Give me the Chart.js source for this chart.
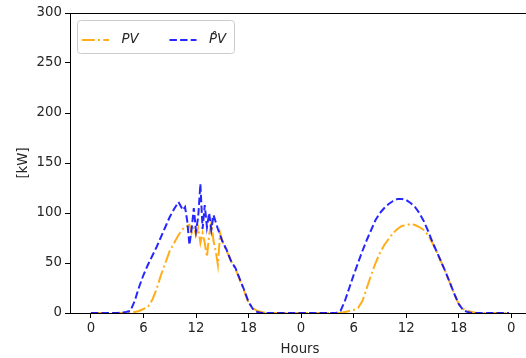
<!DOCTYPE html>
<html>
<head>
<meta charset="utf-8">
<script src="https://cdn.jsdelivr.net/npm/chart.js@4"></script>
<style>
    html, body { margin: 0; padding: 0; background: #fff; overflow: hidden; }
    #wrap { width: 526px; height: 358px; overflow: hidden; }
</style>
</head>
<body>
<div id="wrap"><canvas id="canvas" width="540" height="358"></canvas></div>
<script>
'use strict';

// time axis in hours (two days, finer steps around the noisy midday)
var hours = [
    0, 1, 2, 3, 4,
    4.5, 5, 5.5, 6, 6.5, 7, 7.5, 8, 8.5, 9, 9.5, 10,
    10.25, 10.5, 10.75, 11, 11.25, 11.5, 11.75, 12, 12.25, 12.5,
    12.75, 13, 13.25, 13.5, 13.75, 14, 14.25, 14.5, 14.75, 15,
    15.5, 16, 16.5, 17, 17.5, 18, 18.5, 19, 19.5, 20,
    21, 22, 23,
    24, 25, 26, 27, 28,
    28.5, 29, 29.5, 30, 30.5, 31, 31.5, 32, 32.5, 33,
    33.5, 34, 34.5, 35, 35.5, 36, 36.5, 37, 37.5, 38,
    38.5, 39, 39.5, 40, 40.5, 41, 41.5, 42, 42.5, 43,
    43.5, 44,
    45, 46, 47, 47.75
];

// measured PV [kW]
var pv = [
    0, 0, 0, 0, 0,
    0, 1, 2, 4, 6, 13, 24, 38, 50, 62, 70, 78,
    81, 84, 86, 87, 88, 80, 86, 78, 85, 70,
    80, 70, 56, 78, 90, 72, 62, 48, 80, 72,
    62, 52, 44, 33, 22, 10, 5, 2, 1, 0,
    0, 0, 0,
    0, 0, 0, 0, 0,
    0, 1, 2, 3, 5, 12, 25, 38, 50, 60,
    68, 74, 80, 84, 87, 88, 89, 88, 86, 83,
    78, 70, 61, 51, 41, 30, 19, 9, 4, 2,
    1, 0,
    0, 0, 0, 0
];

// predicted PV [kW]
var pvHat = [
    0, 0, 0, 0, 1,
    2, 12, 26, 38, 48, 57, 66, 76, 86, 96, 104, 111,
    107, 103, 106, 92, 68, 84, 105, 82, 96, 129,
    84, 108, 86, 100, 83, 98, 91, 84, 78, 72,
    63, 52, 45, 34, 23, 11, 4, 1, 0, 0,
    0, 0, 0,
    0, 0, 0, 0, 0,
    2, 12, 25, 38, 50, 62, 73, 83, 93, 100,
    105, 109, 112, 114, 114, 113, 110, 106, 100, 92,
    82, 71, 61, 51, 41, 30, 19, 9, 3, 1,
    0, 0,
    0, 0, 0, 0
];

var xTickValues = [0, 6, 12, 18, 24, 30, 36, 42, 48];
var xTickLabels = ['0', '6', '12', '18', '0', '6', '12', '18', '0'];
var yTicks = [0, 50, 100, 150, 200, 250, 300];

var FONT = 'DejaVu Sans';
var TEXT = '#262626';

function points(values) {
    return hours.map(function (h, i) { return {x: h, y: values[i]}; });
}

// matplotlib-like 5% margins on the x range
var span = hours[hours.length - 1] - hours[0];
var xMin = hours[0] - 0.05 * span,
    xMax = hours[hours.length - 1] + 0.05 * span;

// box around the plot, drawn over the lines like matplotlib spines
var framePlugin = {
    id: 'frame',
    afterDatasetsDraw: function (chart) {
        var a = chart.chartArea, ctx = chart.ctx;
        ctx.save();
        ctx.strokeStyle = '#000';
        ctx.lineWidth = 1;
        ctx.strokeRect(Math.round(a.left) + 0.5, Math.round(a.top) + 0.5,
            Math.round(a.right - a.left), Math.round(a.bottom - a.top));
        ctx.restore();
    }
};

// two column legend in the upper left corner
var legendPlugin = {
    id: 'innerLegend',
    afterDraw: function (chart) {
        var a = chart.chartArea, ctx = chart.ctx;
        var x0 = a.left + 7.5, y0 = a.top + 7.5, w = 157, h = 33, r = 3;
        ctx.save();
        ctx.beginPath();
        ctx.roundRect(x0, y0, w, h, r);
        ctx.fillStyle = 'rgba(255,255,255,0.8)';
        ctx.fill();
        ctx.strokeStyle = '#cccccc';
        ctx.lineWidth = 1;
        ctx.stroke();

        var cy = y0 + 19.5;
        var cols = [x0 + 4.5, x0 + 92];
        var order = [1, 0];
        ctx.font = 'italic 13.3px "' + FONT + '"';
        ctx.textBaseline = 'middle';
        order.forEach(function (di, k) {
            var ds = chart.data.datasets[di], lx = cols[k];
            ctx.beginPath();
            ctx.setLineDash(ds.borderDash);
            ctx.strokeStyle = ds.borderColor;
            ctx.lineWidth = ds.borderWidth;
            ctx.moveTo(lx, cy);
            ctx.lineTo(lx + 27, cy);
            ctx.stroke();
            ctx.setLineDash([]);
            ctx.fillStyle = TEXT;
            ctx.fillText(ds.label, lx + 39.5, cy);
        });
        ctx.restore();
    }
};

new Chart(document.getElementById('canvas').getContext('2d'), {
    type: 'line',
    data: {
        datasets: [
            {
                label: 'P\u0302V',
                data: points(pvHat),
                borderColor: 'rgba(0,0,255,0.85)',
                borderWidth: 2,
                borderDash: [7.4, 3.2],
                pointRadius: 0,
                tension: 0,
                fill: false,
                order: 1
            },
            {
                label: 'PV',
                data: points(pv),
                borderColor: 'rgba(255,165,0,0.9)',
                borderWidth: 2,
                borderDash: [12.8, 3.2, 2, 3.2],
                pointRadius: 0,
                tension: 0,
                fill: false,
                order: 2
            }
        ]
    },
    options: {
        responsive: false,
        animation: false,
        events: [],
        layout: {
            padding: {left: 0, right: 10, top: 13, bottom: 0}
        },
        plugins: {
            legend: {display: false},
            tooltip: {enabled: false}
        },
        scales: {
            x: {
                type: 'linear',
                min: xMin,
                max: xMax,
                afterFit: function (axis) { axis.height = 45; },
                afterBuildTicks: function (axis) {
                    axis.ticks = xTickValues.map(function (v) { return {value: v}; });
                },
                ticks: {
                    autoSkip: false,
                    maxRotation: 0,
                    padding: 3,
                    color: TEXT,
                    font: {family: FONT, size: 13.3},
                    callback: function (value, index) { return xTickLabels[index]; }
                },
                grid: {drawOnChartArea: false, drawTicks: true, tickLength: 5, color: '#000'},
                border: {display: true, color: '#000'},
                title: {
                    display: true,
                    text: 'Hours',
                    color: TEXT,
                    font: {family: FONT, size: 13.3},
                    padding: {top: 0, bottom: 0}
                }
            },
            y: {
                min: 0,
                max: 300,
                afterFit: function (axis) { axis.width = 70; },
                afterBuildTicks: function (axis) {
                    axis.ticks = yTicks.map(function (v) { return {value: v}; });
                },
                ticks: {
                    padding: 3,
                    color: TEXT,
                    font: {family: FONT, size: 13.3}
                },
                grid: {drawOnChartArea: false, drawTicks: true, tickLength: 5, color: '#000'},
                border: {display: true, color: '#000'},
                title: {
                    display: true,
                    text: '[kW]',
                    color: TEXT,
                    font: {family: FONT, size: 13.3},
                    padding: {top: 16, bottom: 0}
                }
            }
        }
    },
    plugins: [framePlugin, legendPlugin]
});
</script>
</body>
</html>
